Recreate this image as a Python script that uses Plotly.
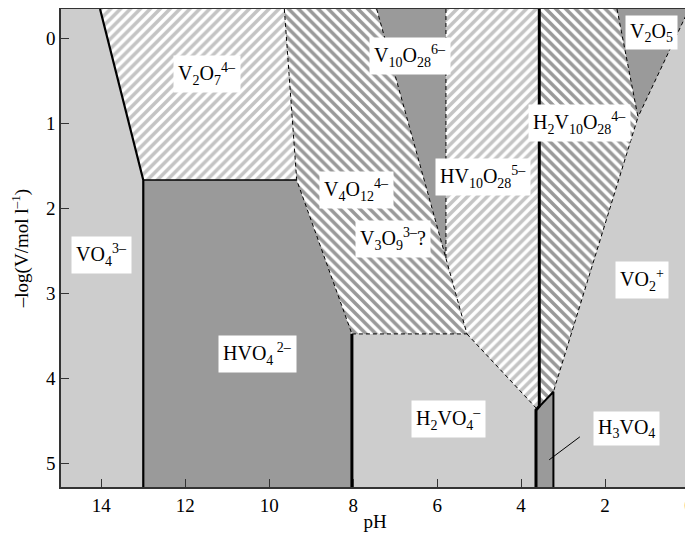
import plotly.graph_objects as go

# ---- data: region boundary vertices (pH, -log[V]) ----
Y_TOP, Y_BOT = -0.341, 5.28
PH_LEFT, PH_RIGHT = 14.96, 0.0

hvo4_ph = [13.0, 9.345, 8.03, 8.03, 13.0]
hvo4_y = [1.671, 1.671, 3.48, Y_BOT, Y_BOT]

v2o7_ph = [14.03, 9.64, 9.345, 13.0]
v2o7_y = [Y_TOP, Y_TOP, 1.671, 1.671]

v4o12_ph = [9.64, 7.44, 5.29, 8.03, 9.345]
v4o12_y = [Y_TOP, Y_TOP, 3.48, 3.48, 1.671]

v10_ph = [7.44, 5.79, 5.79]
v10_y = [Y_TOP, Y_TOP, 2.59]

hv10_ph = [5.79, 3.566, 3.566, 3.645, 5.29, 5.79]
hv10_y = [Y_TOP, Y_TOP, 4.33, 4.35, 3.48, 2.59]

h2v10_ph = [3.566, 1.715, 1.215, 3.23, 3.566]
h2v10_y = [Y_TOP, Y_TOP, 0.93, 4.16, 4.335]

v2o5_ph = [1.715, 0.0, 1.215]
v2o5_y = [Y_TOP, Y_TOP, 0.93]

h3vo4_ph = [3.645, 3.23, 3.23, 3.645]
h3vo4_y = [4.376, 4.16, Y_BOT, Y_BOT]

# boundary lines
vo4_line_ph = [14.03, 13.0, 13.0]
vo4_line_y = [Y_TOP, 1.671, Y_BOT]
horiz_line_ph = [13.0, 9.345]
horiz_line_y = [1.671, 1.671]
ph8_line_ph = [8.03, 8.03]
ph8_line_y = [3.48, Y_BOT]
thick_line_ph = [3.566, 3.566, 3.645, 3.645]
thick_line_y = [Y_TOP, 4.33, 4.376, Y_BOT]
h3_line_ph = [3.645, 3.23, 3.23]
h3_line_y = [4.376, 4.16, Y_BOT]

dashed_lines = [
    ([9.64, 9.345, 8.03], [Y_TOP, 1.671, 3.48]),
    ([8.03, 5.29], [3.48, 3.48]),
    ([7.44, 5.29], [Y_TOP, 3.48]),
    ([5.79, 5.79], [Y_TOP, 2.59]),
    ([5.29, 3.645], [3.48, 4.35]),
    ([1.715, 1.215, 3.23], [Y_TOP, 0.93, 4.16]),
    ([0.0, 1.215], [Y_TOP, 0.93]),
]

# labels
lab_text = [
    "V<sub>2</sub>O<sub>7</sub><sup>4–</sup>",
    "V<sub>10</sub>O<sub>28</sub><sup>6–</sup>",
    "V<sub>2</sub>O<sub>5</sub>",
    "H<sub>2</sub>V<sub>10</sub>O<sub>28</sub><sup>4–</sup>",
    "V<sub>4</sub>O<sub>12</sub><sup>4–</sup>",
    "HV<sub>10</sub>O<sub>28</sub><sup>5–</sup>",
    "V<sub>3</sub>O<sub>9</sub><sup>3–</sup>?",
    "VO<sub>4</sub><sup>3–</sup>",
    "VO<sub>2</sub><sup>+</sup>",
    "HVO<sub>4</sub><sup> 2–</sup>",
    "H<sub>2</sub>VO<sub>4</sub><sup>–</sup>",
    "H<sub>3</sub>VO<sub>4</sub>",
]
lab_ph = [11.48, 6.65, 0.905, 2.60, 7.93, 4.91, 7.05, 14.0, 1.12, 10.29, 5.72, 1.48]
lab_y = [0.42, 0.21, -0.07, 1.0, 1.79, 1.635, 2.36, 2.55, 2.85, 3.72, 4.48, 4.59]

leader_ph = [2.60, 3.33]
leader_y = [4.69, 4.96]

x_ticks = [0, 2, 4, 6, 8, 10, 12, 14]
y_ticks = [0, 1, 2, 3, 4, 5]

LIGHT = "#cdcdcd"
DARK = "#9a9a9a"

fig = go.Figure()


def solid(ph, y, color):
    fig.add_trace(go.Scatter(x=ph, y=y, fill="toself", fillcolor=color,
                             mode="none", hoverinfo="skip", showlegend=False))


def hatch(ph, y, shape, fg, bg):
    fig.add_trace(go.Scatter(x=ph, y=y, fill="toself", fillcolor=bg,
                             fillpattern=dict(shape=shape, fgcolor=fg, bgcolor=bg,
                                              fgopacity=1, size=7, solidity=0.5),
                             mode="none", hoverinfo="skip", showlegend=False))


def line(ph, y, width, dash="solid"):
    fig.add_trace(go.Scatter(x=ph, y=y, mode="lines",
                             line=dict(color="black", width=width, dash=dash),
                             hoverinfo="skip", showlegend=False))


solid(hvo4_ph, hvo4_y, DARK)
hatch(v2o7_ph, v2o7_y, "/", "#c4c4c4", "white")
hatch(v4o12_ph, v4o12_y, "\\", "#999999", "white")
solid(v10_ph, v10_y, DARK)
hatch(hv10_ph, hv10_y, "/", "#c4c4c4", "white")
hatch(h2v10_ph, h2v10_y, "\\", "#999999", "white")
solid(v2o5_ph, v2o5_y, DARK)
solid(h3vo4_ph, h3vo4_y, DARK)

for ph, y in dashed_lines:
    line(ph, y, 1, "4px,3px")
line(vo4_line_ph, vo4_line_y, 2.2)
line(horiz_line_ph, horiz_line_y, 1.5)
line(ph8_line_ph, ph8_line_y, 3)
line(thick_line_ph, thick_line_y, 3)
line(h3_line_ph, h3_line_y, 2)
line(leader_ph, leader_y, 1)

for t, xv, yv in zip(lab_text, lab_ph, lab_y):
    fig.add_annotation(x=xv, y=yv, text=t, showarrow=False, bgcolor="white",
                       borderpad=4, font=dict(family="Liberation Serif", size=20, color="black"))

# the page body adds an 8px offset, so the figure is 8px smaller than the window
fig.update_layout(
    width=685, height=531,
    margin=dict(l=53, r=4, t=1, b=52, autoexpand=False),
    paper_bgcolor="white", plot_bgcolor=LIGHT,
    font=dict(family="Liberation Serif", size=20, color="black"),
    xaxis=dict(range=[PH_LEFT, PH_RIGHT], tickvals=x_ticks, ticks="inside", ticklen=8,
               tickcolor="#333", showline=True, linecolor="#333", linewidth=1.5, mirror=True,
               showgrid=False, zeroline=False, automargin=False, tickfont=dict(size=19),
               ticklabeloverflow="allow",
               title=dict(text="pH", standoff=0, font=dict(size=19))),
    yaxis=dict(range=[Y_BOT, Y_TOP], tickvals=y_ticks, ticks="inside", ticklen=8,
               tickcolor="#333", showline=True, linecolor="#333", linewidth=1.5, mirror=True,
               showgrid=False, zeroline=False, automargin=False, tickfont=dict(size=19),
               ticklabeloverflow="allow",
               title=dict(text="–log(V/mol l<sup>–1</sup>)", standoff=12, font=dict(size=19))),
)

fig.write_html("out.html")
